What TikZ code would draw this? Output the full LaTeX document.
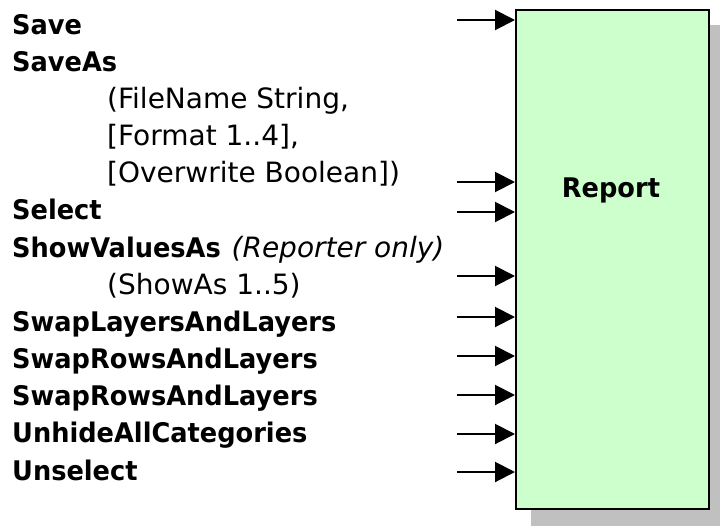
\documentclass[tikz,border=0pt]{standalone}
\usepackage{fontspec}
\setmainfont{DejaVu Sans}[BoldFeatures={FakeStretch=0.95}]
\usetikzlibrary{arrows.meta}
\definecolor{boxfill}{HTML}{CCFFCC}
\definecolor{shadowgray}{HTML}{C0C0C0}
\begin{document}
\begin{tikzpicture}[x=1pt,y=-1pt,
  method/.style={anchor=base west,inner sep=0pt,font=\fontsize{27}{32}\selectfont\bfseries},
  param/.style={anchor=base west,inner sep=0pt,font=\fontsize{28}{32}\selectfont},
  inarrow/.style={line width=2pt,-{Triangle[length=20pt,width=20pt]}}]
\useasboundingbox (0,0) rectangle (720,525);
% drop shadow and the Report block
\fill[shadowgray] (531,25) rectangle (724,529);
\node[draw,line width=2pt,fill=boxfill,minimum width=193pt,minimum height=499pt,inner sep=0pt,anchor=north west] (report) at (515,9) {};
\node[font=\fontsize{27}{32}\selectfont\bfseries] (title) at (611,190) {Report};
% method list
\def\ls{37.17}
\def\bl{34}
\node[method] (m1) at (12,\bl) {Save};
\node[method] (m2) at (12,\bl+\ls) {SaveAs};
\node[param] (p1) at (107,\bl+2*\ls) {(FileName String,};
\node[param] (p2) at (107,\bl+3*\ls) {[Format 1..4],};
\node[param] (p3) at (107,\bl+4*\ls) {[Overwrite Boolean])};
\node[method] (m3) at (12,\bl+5*\ls) {Select};
\node[method] (m4) at (12,\bl+6*\ls) {ShowValuesAs\hspace{0.4em}\fontsize{28}{32}\selectfont\mdseries\itshape(Reporter only)};
\node[param] (p4) at (107,\bl+7*\ls) {(ShowAs 1..5)};
\node[method] (m5) at (12,\bl+8*\ls) {SwapLayersAndLayers};
\node[method] (m6) at (12,\bl+9*\ls) {SwapRowsAndLayers};
\node[method] (m7) at (12,\bl+10*\ls) {SwapRowsAndLayers};
\node[method] (m8) at (12,\bl+11*\ls) {UnhideAllCategories};
\node[method] (m9) at (12,\bl+12*\ls) {Unselect};
% input arrows
\foreach \i/\y in {a1/20,a2/182,a3/212,a4/276,a5/317,a6/356,a7/395,a8/434,a9/472}{
  \coordinate (\i) at (457,\y);
  \draw[inarrow] (\i) -- (report.west |- \i);
}
\end{tikzpicture}
\end{document}
